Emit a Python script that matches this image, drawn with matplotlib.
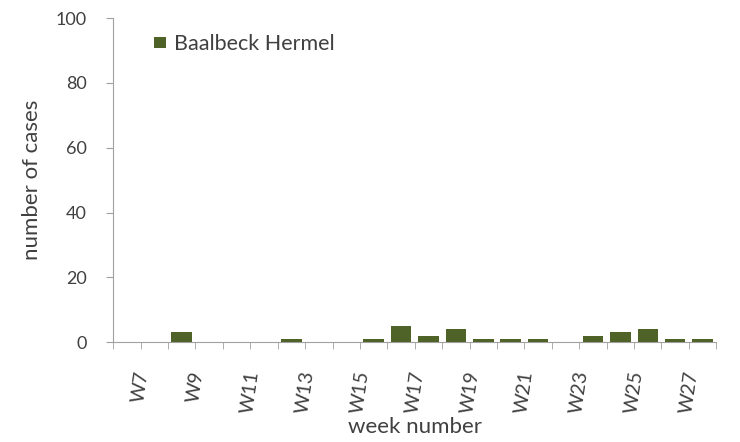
import matplotlib
matplotlib.use("Agg")
import matplotlib.pyplot as plt
import matplotlib.transforms as mtransforms
import numpy as np

weeks = ["W7", "W8", "W9", "W10", "W11", "W12", "W13", "W14", "W15", "W16", "W17",
         "W18", "W19", "W20", "W21", "W22", "W23", "W24", "W25", "W26", "W27", "W28"]
cases = [0, 0, 3, 0, 0, 0, 1, 0, 0, 1, 5, 2, 4, 1, 1, 1, 0, 2, 3, 4, 1, 1]
series_name = "Baalbeck Hermel"
yticks = [0, 20, 40, 60, 80, 100]

plt.rcParams['font.family'] = ['Lato', 'DejaVu Sans']
fig = plt.figure(figsize=(7.4, 4.42), dpi=100)
ax = fig.add_axes([0.153, 0.226, 0.815, 0.733])

x = np.arange(len(weeks))
ax.bar(x, cases, width=0.75, color="#4F6228", label=series_name, zorder=3)

ax.set_xlim(-0.5, len(weeks) - 0.5)
ax.set_ylim(0, 100)
ax.set_yticks(yticks)
ax.set_yticklabels([str(v) for v in yticks], fontsize=13, color="#404040")

ax.set_xticks(x[::2])
ax.set_xticklabels(weeks[::2], rotation=82, fontsize=14, color="#404040", va="top", ha="center")
ax.set_xticks(np.arange(-0.5, len(weeks), 1), minor=True)
ax.tick_params(axis="x", which="major", length=0, pad=20)
ax.tick_params(axis="x", which="minor", length=5, color="#A0A0A0", direction="out")
ax.tick_params(axis="y", length=5, color="#A0A0A0", direction="out", pad=14)

offset = mtransforms.ScaledTranslation(14 / 100, 0, fig.dpi_scale_trans)
for lbl in ax.get_xticklabels():
    lbl.set_transform(lbl.get_transform() + offset)

for s in ["top", "right"]:
    ax.spines[s].set_visible(False)
for s in ["left", "bottom"]:
    ax.spines[s].set_color("#A0A0A0")

ax.set_xlabel("week number", fontsize=16, color="#404040", labelpad=2)
ax.set_ylabel("number of cases", fontsize=16, color="#404040", labelpad=10)

leg = ax.legend(loc="upper left", bbox_to_anchor=(0.035, 1.01), frameon=False,
                fontsize=15.5, handlelength=0.55, handleheight=0.4, handletextpad=0.4)
for t in leg.get_texts():
    t.set_color("#404040")

fig.savefig("out.png", dpi=100)
